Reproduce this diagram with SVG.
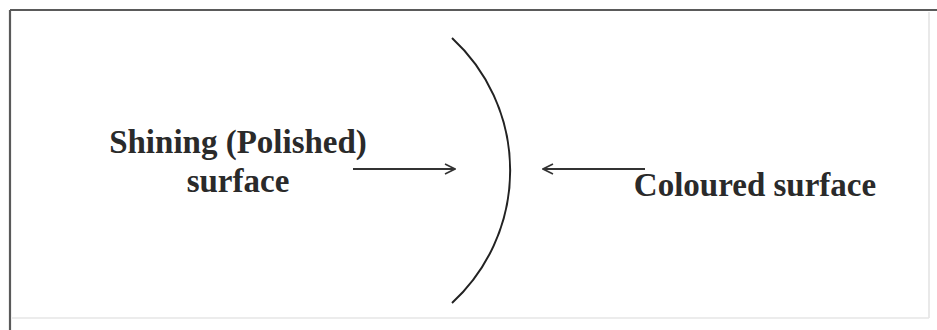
<svg xmlns="http://www.w3.org/2000/svg" width="937" height="330" viewBox="0 0 937 330">
  <defs>
    <marker id="arrow" viewBox="0 0 12 12" refX="11" refY="6" markerWidth="12" markerHeight="12" markerUnits="userSpaceOnUse" orient="auto">
      <path d="M1,1 L11,6 L1,11" fill="none" stroke="#333" stroke-width="1.6"/>
    </marker>
  </defs>
  <style>
    .lbl { font-family: "Liberation Serif", "Times New Roman", serif; font-weight: bold; font-size: 33px; fill: #2a2a2a; }
    .conn { stroke: #333; stroke-width: 1.8; fill: none; }
  </style>
  <rect width="937" height="330" fill="#ffffff"/>
  <g id="frame">
    <line x1="10" y1="10" x2="937" y2="10" stroke="#5a5a5a" stroke-width="2.2"/>
    <line x1="10" y1="10" x2="10" y2="330" stroke="#5a5a5a" stroke-width="2.2"/>
    <line x1="929" y1="12" x2="929" y2="318" stroke="#e2e2e2" stroke-width="1.5"/>
    <line x1="12" y1="318" x2="929" y2="318" stroke="#e6e6e6" stroke-width="1.5"/>
  </g>
  <g id="mirror">
    <path d="M452,38 A180,180 0 0 1 452,303" fill="none" stroke="#222" stroke-width="2"/>
  </g>
  <g id="shining-label">
    <text class="lbl" x="238" y="153" text-anchor="middle">Shining (Polished)</text>
    <text class="lbl" x="238" y="192" text-anchor="middle">surface</text>
  </g>
  <g id="coloured-label">
    <text class="lbl" x="755" y="196" text-anchor="middle">Coloured surface</text>
  </g>
  <g id="connectors">
    <line class="conn" x1="353" y1="169" x2="455" y2="169" marker-end="url(#arrow)"/>
    <line class="conn" x1="645" y1="169" x2="543" y2="169" marker-end="url(#arrow)"/>
  </g>
</svg>
